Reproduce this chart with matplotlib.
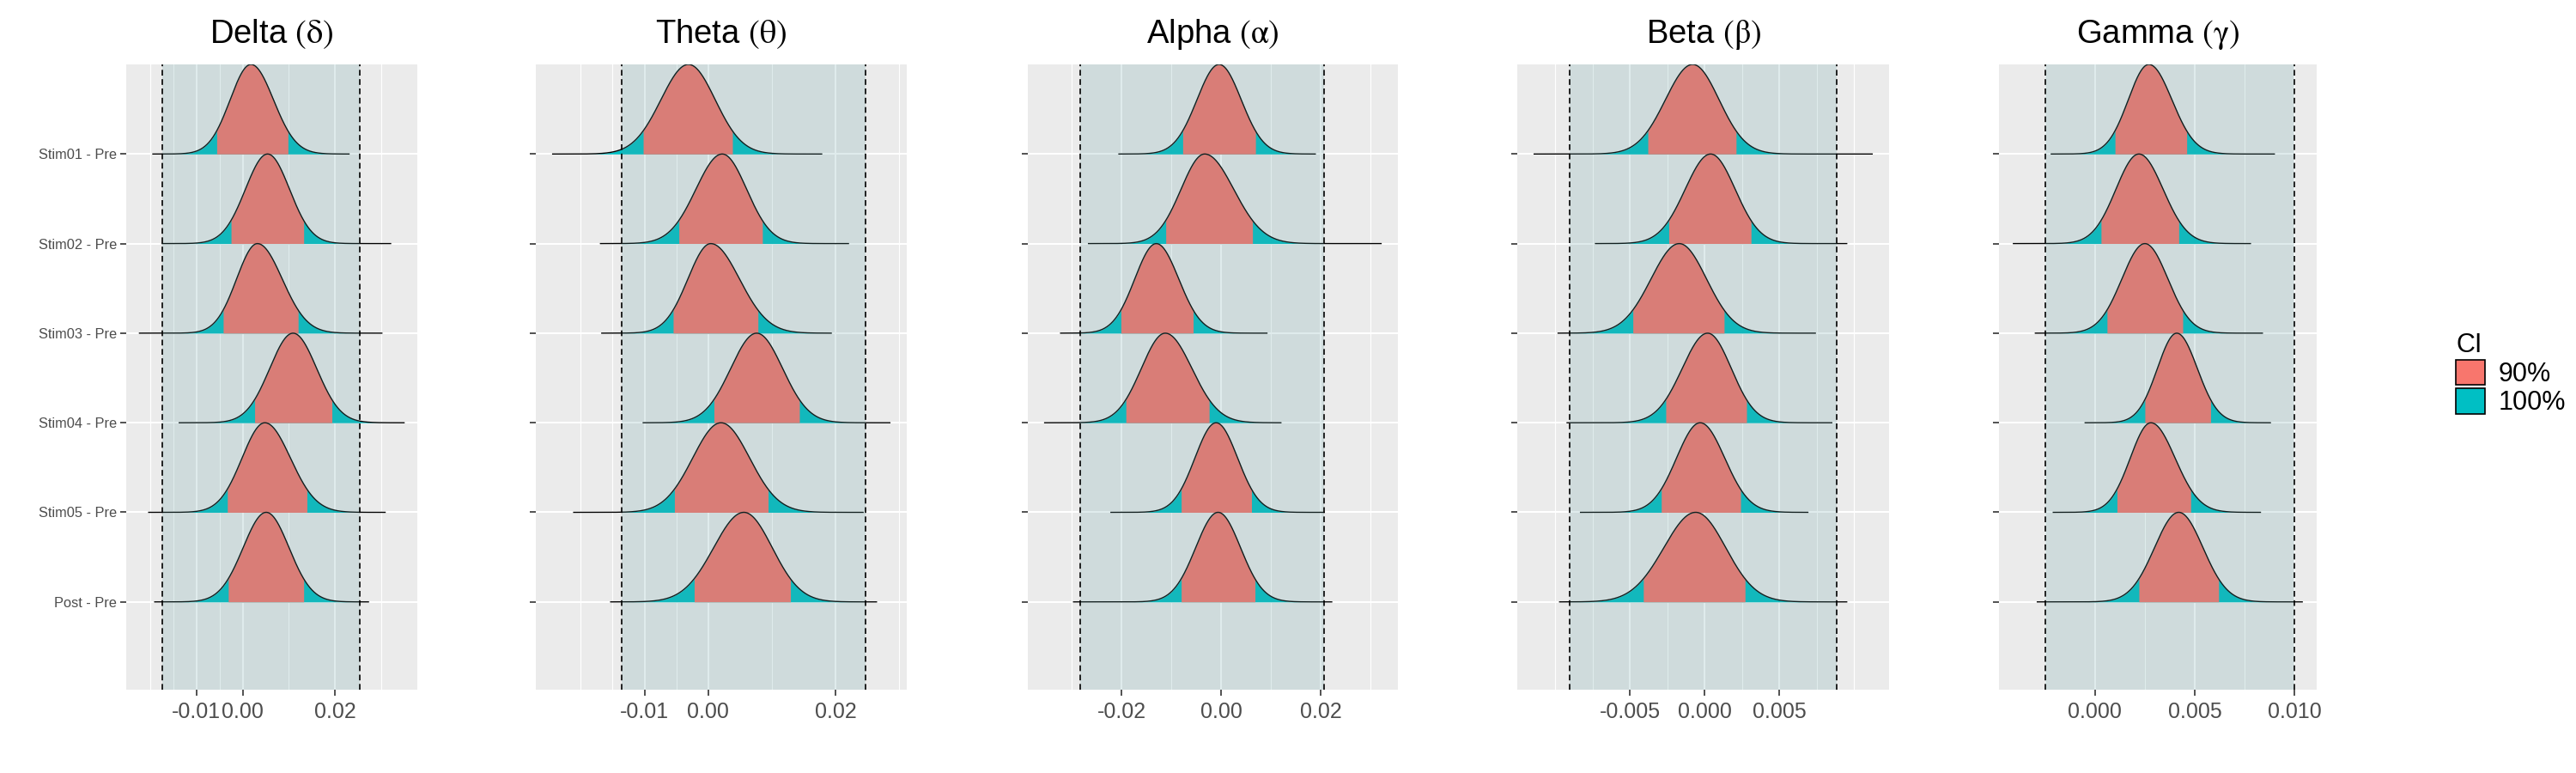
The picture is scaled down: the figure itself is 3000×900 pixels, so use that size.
"""Ridgeline plots of posterior differences (vs Pre) per EEG band, with ROPE."""

import numpy as np
import matplotlib
matplotlib.use("Agg")
import matplotlib.pyplot as plt
from matplotlib.patches import Patch

plt.rcParams["font.family"] = ["Liberation Sans", "DejaVu Sans"]
plt.rcParams["mathtext.fontset"] = "stix"

# ---- Data ----
CONTRASTS = ["Stim01 - Pre", "Stim02 - Pre", "Stim03 - Pre",
             "Stim04 - Pre", "Stim05 - Pre", "Post - Pre"]

BANDS = ["Delta", "Theta", "Alpha", "Beta", "Gamma"]
BAND_SYMBOLS = [r"$(\mathrm{\delta})$", r"$(\mathrm{\theta})$", r"$(\mathrm{\alpha})$",
                r"$(\mathrm{\beta})$", r"$(\mathrm{\gamma})$"]

DELTA_MODE = [0.0018, 0.0054, 0.0032, 0.0109, 0.0048, 0.0051]
DELTA_LO90 = [-0.0056, -0.0025, -0.0042, 0.0026, -0.0033, -0.0031]
DELTA_HI90 = [0.0098, 0.0132, 0.0120, 0.0193, 0.0139, 0.0132]
DELTA_MIN = [-0.0194, -0.0174, -0.0223, -0.0137, -0.0203, -0.0190]
DELTA_MAX = [0.0230, 0.0320, 0.0301, 0.0349, 0.0308, 0.0272]
DELTA_ROPE = [-0.0174, 0.0254]

THETA_MODE = [-0.0031, 0.0022, 0.0004, 0.0076, 0.0020, 0.0056]
THETA_LO90 = [-0.0102, -0.0046, -0.0055, 0.0009, -0.0053, -0.0022]
THETA_HI90 = [0.0038, 0.0085, 0.0078, 0.0143, 0.0094, 0.0129]
THETA_MIN = [-0.0244, -0.0169, -0.0167, -0.0102, -0.0211, -0.0153]
THETA_MAX = [0.0178, 0.0220, 0.0193, 0.0285, 0.0243, 0.0264]
THETA_ROPE = [-0.0136, 0.0247]

ALPHA_MODE = [-0.0004, -0.0033, -0.0130, -0.0112, -0.0010, -0.0006]
ALPHA_LO90 = [-0.0077, -0.0111, -0.0201, -0.0191, -0.0080, -0.0080]
ALPHA_HI90 = [0.0069, 0.0063, -0.0056, -0.0024, 0.0061, 0.0068]
ALPHA_MIN = [-0.0205, -0.0266, -0.0322, -0.0354, -0.0221, -0.0296]
ALPHA_MAX = [0.0189, 0.0321, 0.0092, 0.0120, 0.0207, 0.0222]
ALPHA_ROPE = [-0.0282, 0.0207]

BETA_MODE = [-0.0008, 0.0004, -0.0017, 0.0002, -0.0003, -0.0006]
BETA_LO90 = [-0.0038, -0.0024, -0.0048, -0.0026, -0.0029, -0.0041]
BETA_HI90 = [0.0021, 0.0031, 0.0013, 0.0028, 0.0024, 0.0027]
BETA_MIN = [-0.0114, -0.0073, -0.0098, -0.0092, -0.0083, -0.0097]
BETA_MAX = [0.0112, 0.0095, 0.0074, 0.0085, 0.0069, 0.0095]
BETA_ROPE = [-0.0090, 0.0088]

GAMMA_MODE = [0.0027, 0.0022, 0.0025, 0.0041, 0.0028, 0.0042]
GAMMA_LO90 = [0.0010, 0.0003, 0.0006, 0.0025, 0.0011, 0.0022]
GAMMA_HI90 = [0.0046, 0.0042, 0.0044, 0.0058, 0.0048, 0.0062]
GAMMA_MIN = [-0.0022, -0.0041, -0.0030, -0.0005, -0.0021, -0.0029]
GAMMA_MAX = [0.0090, 0.0078, 0.0084, 0.0088, 0.0083, 0.0104]
GAMMA_ROPE = [-0.0025, 0.0100]

# axis breaks per band (labelled), and the minor grid positions
BREAKS = [[-0.01, 0.0, 0.02], [-0.01, 0.0, 0.02], [-0.02, 0.0, 0.02],
          [-0.005, 0.0, 0.005], [0.0, 0.005, 0.010]]
BREAK_LABELS = [["-0.01", "0.00", "0.02"], ["-0.01", "0.00", "0.02"],
                ["-0.02", "0.00", "0.02"], ["-0.005", "0.000", "0.005"],
                ["0.000", "0.005", "0.010"]]
MINOR = [[-0.02, -0.015, -0.005, 0.01, 0.03], [-0.02, -0.015, -0.005, 0.01, 0.03],
         [-0.03, -0.01, 0.01, 0.03], [-0.01, -0.0075, -0.0025, 0.0025, 0.0075, 0.01],
         [-0.0025, 0.0025, 0.0075]]

# ---- Style ----
FILL_90 = "#F8766D"
FILL_100 = "#00BFC4"
PANEL_BG = "#EBEBEB"
TEXT_GREY = "#4D4D4D"
W, H = 3000, 900
PANEL_X = [(147, 486), (624, 1056), (1197, 1628), (1767, 2200), (2328, 2698)]
PANEL_Y = (75, 803)


def ridge(ax, y0, mode, lo, hi, xmin, xmax, z):
    x = np.linspace(xmin, xmax, 800)
    s = np.where(x < mode, (mode - lo) / 1.645, (hi - mode) / 1.645)
    h = np.exp(-0.5 * ((x - mode) / s) ** 2)
    ax.fill_between(x, y0, y0 + h, color=FILL_100, lw=0, zorder=z)
    xi = np.linspace(lo, hi, 300)
    si = np.where(xi < mode, (mode - lo) / 1.645, (hi - mode) / 1.645)
    hi_ = np.exp(-0.5 * ((xi - mode) / si) ** 2)
    ax.fill_between(xi, y0, y0 + hi_, color=FILL_90, lw=0, zorder=z)
    ax.plot(x, y0 + h, color="black", lw=1.0, zorder=z + 0.5)


fig = plt.figure(figsize=(W / 100, H / 100), dpi=100)

band_data = [
    (DELTA_MODE, DELTA_LO90, DELTA_HI90, DELTA_MIN, DELTA_MAX, DELTA_ROPE),
    (THETA_MODE, THETA_LO90, THETA_HI90, THETA_MIN, THETA_MAX, THETA_ROPE),
    (ALPHA_MODE, ALPHA_LO90, ALPHA_HI90, ALPHA_MIN, ALPHA_MAX, ALPHA_ROPE),
    (BETA_MODE, BETA_LO90, BETA_HI90, BETA_MIN, BETA_MAX, BETA_ROPE),
    (GAMMA_MODE, GAMMA_LO90, GAMMA_HI90, GAMMA_MIN, GAMMA_MAX, GAMMA_ROPE),
]

ypos = np.arange(len(CONTRASTS), 0, -1)  # Stim01 on top, Post at bottom

for i, (band, sym, data) in enumerate(zip(BANDS, BAND_SYMBOLS, band_data)):
    mode, lo, hi, mn, mx, rope = data
    x0, x1 = PANEL_X[i]
    ax = fig.add_axes([x0 / W, 1 - PANEL_Y[1] / H,
                       (x1 - x0) / W, (PANEL_Y[1] - PANEL_Y[0]) / H])
    ax.set_facecolor(PANEL_BG)
    for sp in ax.spines.values():
        sp.set_visible(False)

    # ggplot-like expansion: 5% of data range each side
    dmin, dmax = min(mn), max(mx)
    pad = 0.05 * (dmax - dmin)
    ax.set_xlim(dmin - pad, dmax + pad)
    ax.set_ylim(0.02, 7.0)

    ax.set_xticks(BREAKS[i])
    ax.set_xticklabels(BREAK_LABELS[i])
    ax.set_xticks(MINOR[i], minor=True)
    ax.set_yticks(ypos)
    ax.set_yticklabels(CONTRASTS if i == 0 else [])
    ax.tick_params(axis="x", which="major", length=5, width=1.2, color="#333333",
                   labelsize=18, labelcolor=TEXT_GREY, pad=5)
    ax.tick_params(axis="x", which="minor", length=0)
    ax.tick_params(axis="y", length=5, width=1.2, color="#333333",
                   labelsize=11.8, labelcolor=TEXT_GREY, pad=3)
    ax.grid(which="major", color="white", lw=1.5, zorder=0)
    ax.grid(which="minor", axis="x", color="white", lw=0.8, zorder=0)
    ax.set_axisbelow(True)

    for k in range(len(CONTRASTS)):
        ridge(ax, ypos[k], mode[k], lo[k], hi[k], mn[k], mx[k], z=2 + k)

    # ROPE shading sits on top of the ridges, like the original
    ax.axvspan(rope[0], rope[1], color="cadetblue", alpha=0.2, lw=0, zorder=20)
    for r in rope:
        ax.axvline(r, color="black", lw=1.2, ls=(0, (4, 2.5)), zorder=21)

    ax.set_title(f"{band} {sym}", fontsize=27.5, pad=18, color="black")

handles = [Patch(facecolor=FILL_90, edgecolor="black", lw=1.2, label="90%"),
           Patch(facecolor=FILL_100, edgecolor="black", lw=1.2, label="100%")]
fig.legend(handles=handles, title="CI", loc="upper left",
           bbox_to_anchor=(2845 / W, 1 - 372 / H), frameon=False,
           fontsize=22, title_fontsize=22, handlelength=1.1, handleheight=1.1,
           labelspacing=0.05, handletextpad=0.5, borderpad=0, alignment="left")

fig.savefig("out.png", dpi=100)
